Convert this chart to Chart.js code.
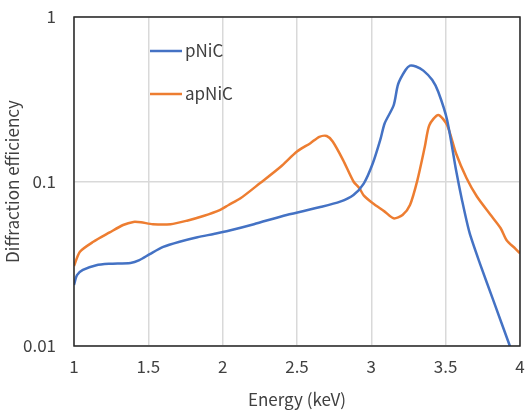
<!DOCTYPE html>
<html>
<head>
<meta charset="utf-8">
<script src="https://cdn.jsdelivr.net/npm/chart.js@4/dist/chart.umd.min.js"></script>
<style>
  html, body { margin: 0; padding: 0; background: #fff; }
  #wrap { width: 526px; height: 414px; }
</style>
</head>
<body>
<div id="wrap"><canvas id="chart"></canvas></div>
<script>
// data
const pNiCEnergy = [1.00, 1.02, 1.06, 1.15, 1.24, 1.38, 1.44, 1.51, 1.60, 1.71, 1.83, 1.94, 2.04, 2.21, 2.43, 2.65, 2.79, 2.88, 2.95, 3.01, 3.06, 3.09, 3.15, 3.18, 3.23, 3.26, 3.30, 3.35, 3.41, 3.45, 3.51, 3.57, 3.61, 3.66, 3.73, 3.82, 3.93, 3.96];
const pNiCValues = [0.0235, 0.027, 0.029, 0.031, 0.0316, 0.032, 0.0333, 0.0362, 0.040, 0.043, 0.0458, 0.048, 0.0502, 0.055, 0.0626, 0.0697, 0.0754, 0.0828, 0.0975, 0.129, 0.179, 0.226, 0.29, 0.39, 0.476, 0.506, 0.50, 0.472, 0.414, 0.351, 0.236, 0.117, 0.077, 0.049, 0.0318, 0.019, 0.0101, 0.0085];

const apNiCEnergy = [1.00, 1.04, 1.13, 1.24, 1.33, 1.40, 1.45, 1.53, 1.65, 1.76, 1.87, 1.98, 2.04, 2.12, 2.25, 2.39, 2.50, 2.59, 2.65, 2.70, 2.74, 2.81, 2.88, 2.92, 2.95, 3.01, 3.09, 3.15, 3.21, 3.26, 3.31, 3.36, 3.39, 3.45, 3.51, 3.57, 3.64, 3.71, 3.80, 3.87, 3.91, 3.97, 4.00];
const apNiCValues = [0.0306, 0.0374, 0.043, 0.049, 0.0544, 0.0568, 0.0565, 0.055, 0.055, 0.0578, 0.0617, 0.067, 0.072, 0.079, 0.0975, 0.123, 0.152, 0.171, 0.187, 0.189, 0.175, 0.135, 0.100, 0.091, 0.082, 0.0737, 0.0656, 0.0597, 0.0626, 0.072, 0.102, 0.163, 0.22, 0.254, 0.22, 0.148, 0.105, 0.081, 0.063, 0.052, 0.044, 0.039, 0.0366];

const xTicks = [1, 1.5, 2, 2.5, 3, 3.5, 4];
const yTicks = [0.01, 0.1, 1];
const seriesNames = ['pNiC', 'apNiC'];
const seriesColors = ['#4472C4', '#ED7D31'];

const FONT = '"Noto Sans CJK JP", "Noto Sans", sans-serif';
const TEXT = '#404040';

function toPoints(xs, ys) {
    return xs.map((x, i) => ({ x: x, y: ys[i] }));
}

// frame round the plot + legend inside it
const framePlugin = {
    id: 'frame',
    afterDraw(chart) {
        const { ctx, chartArea: a } = chart;
        ctx.save();
        ctx.strokeStyle = '#262626';
        ctx.lineWidth = 1.5;
        ctx.strokeRect(a.left, a.top, a.right - a.left, a.bottom - a.top);

        // legend
        ctx.font = '17px ' + FONT;
        ctx.textBaseline = 'middle';
        ctx.fillStyle = TEXT;
        ctx.lineWidth = 2.5;
        const rows = [51, 94];
        seriesNames.forEach((name, i) => {
            ctx.strokeStyle = seriesColors[i];
            ctx.beginPath();
            ctx.moveTo(150, rows[i]);
            ctx.lineTo(182, rows[i]);
            ctx.stroke();
            ctx.fillText(name, 185, rows[i]);
        });
        ctx.restore();
    }
};

const ctx = document.getElementById('chart').getContext('2d');

new Chart(ctx, {
    type: 'line',
    data: {
        datasets: [{
            label: seriesNames[0],
            data: toPoints(pNiCEnergy, pNiCValues),
            borderColor: seriesColors[0],
            borderWidth: 2.5,
            pointRadius: 0,
            tension: 0.25,
            fill: false
        }, {
            label: seriesNames[1],
            data: toPoints(apNiCEnergy, apNiCValues),
            borderColor: seriesColors[1],
            borderWidth: 2.5,
            pointRadius: 0,
            tension: 0.25,
            fill: false
        }]
    },
    options: {
        responsive: true,
        maintainAspectRatio: false,
        animation: false,
        layout: { padding: { top: 17, right: 6, left: 0, bottom: 0 } },
        plugins: {
            legend: { display: false },
            tooltip: { enabled: false }
        },
        scales: {
            x: {
                type: 'linear',
                min: 1,
                max: 4,
                afterBuildTicks(scale) {
                    scale.ticks = xTicks.map(v => ({ value: v }));
                },
                ticks: {
                    padding: 10,
                    color: TEXT,
                    font: { family: FONT, size: 17 },
                    callback: v => String(v)
                },
                grid: { color: '#d9d9d9', lineWidth: 1.5, drawTicks: false },
                border: { display: false },
                title: {
                    display: true,
                    text: 'Energy (keV)',
                    color: TEXT,
                    font: { family: FONT, size: 17 },
                    padding: { top: 4 }
                },
                afterFit(scale) {
                    scale.height = 68;
                    scale.paddingLeft = 0;
                    scale.paddingRight = 0;
                }
            },
            y: {
                type: 'logarithmic',
                min: 0.01,
                max: 1,
                afterBuildTicks(scale) {
                    scale.ticks = yTicks.map(v => ({ value: v }));
                },
                ticks: {
                    padding: 18,
                    color: TEXT,
                    font: { family: FONT, size: 17 },
                    callback: v => String(v)
                },
                grid: { color: '#d9d9d9', lineWidth: 1.5, drawTicks: false },
                border: { display: false },
                title: {
                    display: true,
                    text: 'Diffraction efficiency',
                    color: TEXT,
                    font: { family: FONT, size: 17 },
                    padding: { top: 2, bottom: 0 }
                },
                afterFit(scale) {
                    scale.width = 74;
                    scale.paddingTop = 0;
                    scale.paddingBottom = 0;
                }
            }
        }
    },
    plugins: [framePlugin]
});
</script>
</body>
</html>
